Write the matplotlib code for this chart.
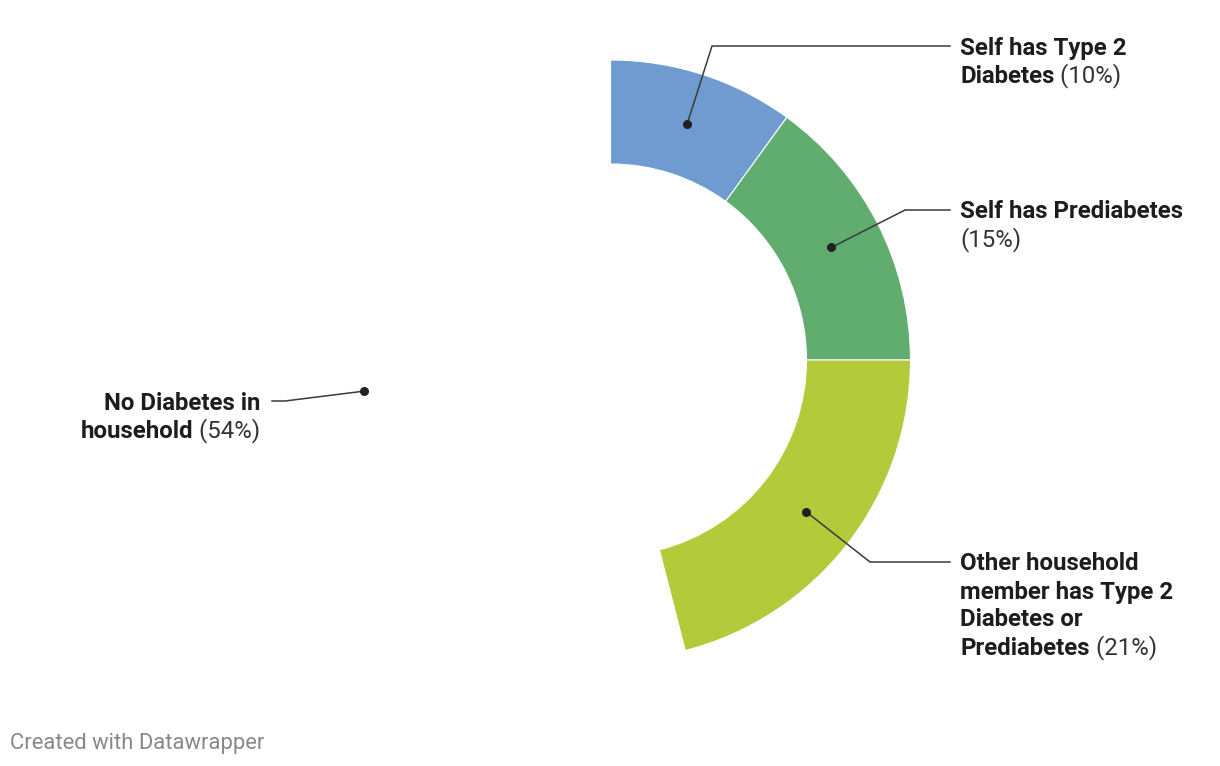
import numpy as np
import matplotlib.pyplot as plt
from matplotlib.offsetbox import TextArea, HPacker, AnnotationBbox

# data
names = ["Self has Type 2\nDiabetes",
         "Self has Prediabetes\n",
         "Other household\nmember has Type 2\nDiabetes or\nPrediabetes",
         "No Diabetes in\nhousehold"]
values = [10, 15, 21, 54]
colors = ["#6f9bd1", "#61ad70", "#b3ca3a", "white"]

W, H = 1220, 766
cx, cy = 610.5, H - 360

# label layout (pixels from top-left): elbow point, line end, text x, alignment
elbows = [(712, 46), (905, 210), (870, 562), (285, 401)]
ends = [950, 950, 950, 272]
text_x = [960, 960, 960, 260]
align = ["left", "left", "left", "right"]

plt.rcParams['font.family'] = ['Roboto', 'DejaVu Sans']

fig = plt.figure(figsize=(12.2, 7.66), dpi=100)
ax = fig.add_axes([0, 0, 1, 1])

wedges, _ = ax.pie(values, colors=colors, startangle=90, counterclock=False,
                   radius=300, center=(cx, cy),
                   wedgeprops=dict(width=104, edgecolor='white', linewidth=0.8))
ax.set_xlim(0, W)
ax.set_ylim(0, H)
ax.set_aspect('equal')
ax.axis('off')

bold = dict(fontsize=17.3, fontweight='bold', color='#1d1d1d')
reg = dict(fontsize=17.3, color='#333333')

for i, w in enumerate(wedges):
    mid = np.deg2rad((w.theta1 + w.theta2) / 2)
    dx = cx + 248 * np.cos(mid)
    dy = cy + 248 * np.sin(mid)
    ex, ey = elbows[i]
    ax.plot([dx, ex, ends[i]], [dy, H - ey, H - ey], color='#3a3a3a', lw=1.1,
            solid_joinstyle='miter')
    ax.plot(dx, dy, 'o', color='#222222', ms=5.5)

    lines = names[i].split("\n")
    pct = "(%d%%)" % values[i]
    for j, ln in enumerate(lines):
        parts = []
        if ln:
            parts.append(TextArea(ln, textprops=bold))
        if j == len(lines) - 1:
            parts.append(TextArea((" " if ln else "") + pct, textprops=reg))
        box = HPacker(children=parts, align="baseline", pad=0, sep=0)
        ab = AnnotationBbox(box, (text_x[i], H - ey - 2 - 28 * j), frameon=False,
                            pad=0, box_alignment=(0 if align[i] == "left" else 1, 0.5))
        ax.add_artist(ab)

ax.text(10, H - 743, "Created with Datawrapper", fontsize=15.8, color='#888888',
        va='center', ha='left')

fig.savefig("out.png", dpi=100)
